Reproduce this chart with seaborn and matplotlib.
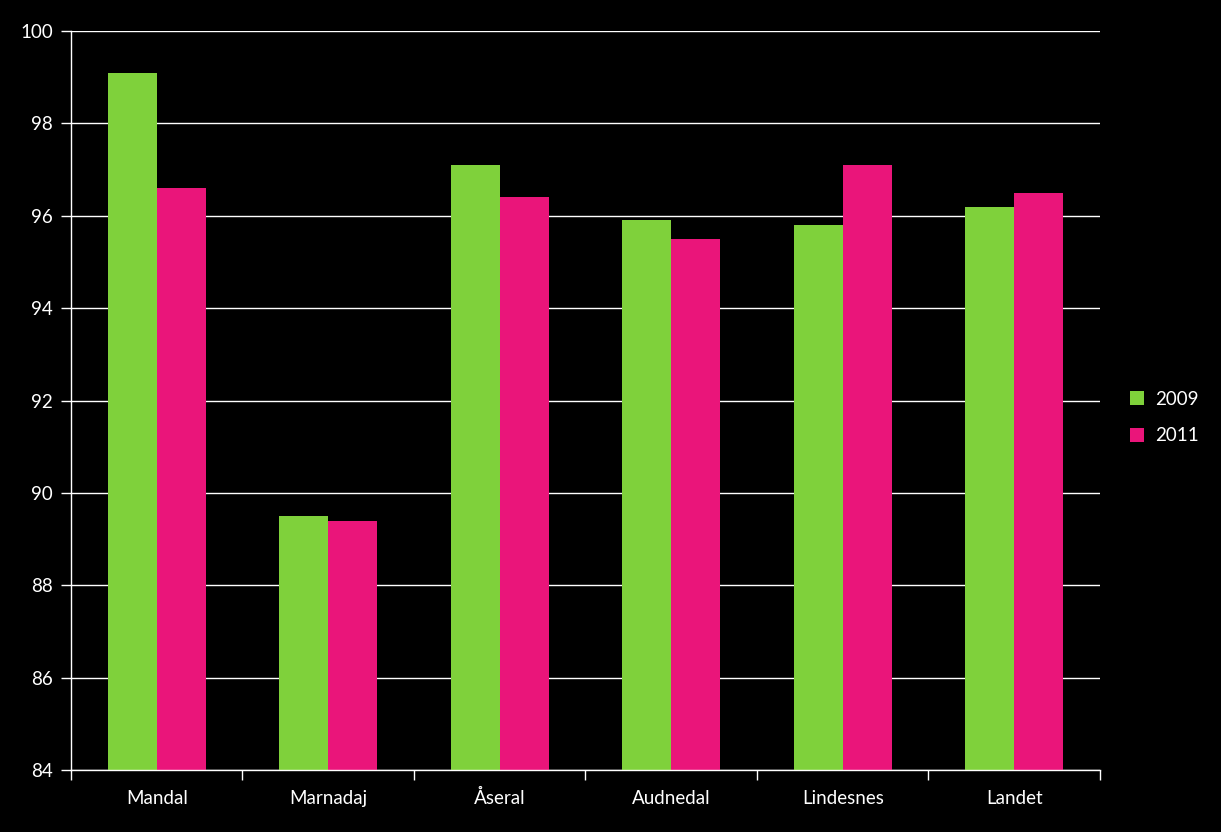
import matplotlib
matplotlib.use("Agg")
import matplotlib.pyplot as plt
import seaborn as sns
import pandas as pd
from matplotlib.ticker import FixedLocator

categories = ["Mandal", "Marnadaj", "Åseral", "Audnedal", "Lindesnes", "Landet"]
values_2009 = [99.1, 89.5, 97.1, 95.9, 95.8, 96.2]
values_2011 = [96.6, 89.4, 96.4, 95.5, 97.1, 96.5]
series = ["2009", "2011"]
colors = ["#7FD13B", "#EA157A"]

df = pd.DataFrame({
    "cat": categories * 2,
    "val": values_2009 + values_2011,
    "year": [series[0]] * len(categories) + [series[1]] * len(categories),
})

sns.set_theme(style="dark")
plt.rcParams['font.family'] = ['Lato', 'DejaVu Sans']

fig = plt.figure(figsize=(12.21, 8.32), dpi=100, facecolor="black")
ax = fig.add_axes([0.0581, 0.0745, 0.8428, 0.8882])
ax.set_facecolor("black")

sns.barplot(data=df, x="cat", y="val", hue="year", palette=colors,
            width=0.572, gap=0, saturation=1, ax=ax, legend=True,
            linewidth=0, edgecolor="none")

ax.set_ylim(84, 100)
ax.set_xlim(-0.5, len(categories) - 0.5)
ax.set_yticks(range(84, 101, 2))
ax.yaxis.grid(True, color="white", linewidth=1)
ax.xaxis.grid(False)
ax.set_axisbelow(True)

for s in ["top", "right"]:
    ax.spines[s].set_visible(False)
for s in ["left", "bottom"]:
    ax.spines[s].set_color("white")
    ax.spines[s].set_linewidth(1)

ax.tick_params(axis="y", colors="white", labelsize=13.5, length=7, width=1, direction="out", left=True, pad=6)
ax.tick_params(axis="x", which="major", colors="white", labelsize=13.5, length=0, pad=24.5)
for lbl in ax.get_xticklabels():
    lbl.set_verticalalignment("baseline")
ax.xaxis.set_minor_locator(FixedLocator([i - 0.5 for i in range(len(categories) + 1)]))
ax.tick_params(axis="x", which="minor", colors="white", length=7, width=1, bottom=True)

ax.set_xlabel("")
ax.set_ylabel("")

leg = ax.legend(loc="center left", bbox_to_anchor=(1.013, 0.477), frameon=False,
                fontsize=13.5, labelcolor="white", handlelength=0.75, handleheight=0.75,
                labelspacing=1.05, handletextpad=0.55)

fig.savefig("out.png", dpi=100, facecolor="black")
